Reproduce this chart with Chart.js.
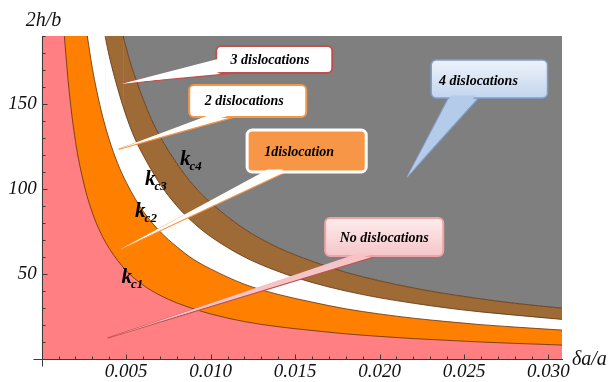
<!DOCTYPE html>
<html>
<head>
<meta charset="utf-8">
<title>Critical thickness map</title>
<script src="https://cdn.jsdelivr.net/npm/chart.js@4.4.0/dist/chart.umd.min.js"></script>
<style>
  html, body { margin: 0; padding: 0; background: #fff; }
  #wrap { width: 609px; height: 382px; }
</style>
</head>
<body>
<div id="wrap"><canvas id="chart" width="609" height="382"></canvas></div>
<script>
// Critical curves: x = delta a / a, y = 2h/b
const kc1X = [0.00134, 0.0016, 0.002, 0.0025, 0.003, 0.0035, 0.004, 0.005, 0.006, 0.007, 0.008, 0.009, 0.010, 0.012, 0.014, 0.016, 0.018, 0.020, 0.022, 0.024, 0.026, 0.028, 0.0308];
const kc1Y = [190, 160, 128, 103, 86, 74, 65, 52, 43.5, 37.5, 33, 29.5, 26.5, 22, 19, 16.8, 14.8, 13.3, 12, 11, 10, 9.2, 8.2];

const kc2X = [0.0027, 0.003, 0.0035, 0.004, 0.0045, 0.005, 0.006, 0.007, 0.008, 0.009, 0.010, 0.012, 0.014, 0.016, 0.018, 0.020, 0.022, 0.024, 0.026, 0.028, 0.0308];
const kc2Y = [190, 171, 147, 129, 115, 104, 87, 75, 66, 58.5, 53, 44, 38, 33.5, 29.5, 26.5, 24, 22, 20.2, 18.8, 17];

const kc3X = [0.00375, 0.004, 0.0045, 0.005, 0.0055, 0.006, 0.007, 0.008, 0.009, 0.010, 0.012, 0.014, 0.016, 0.018, 0.020, 0.022, 0.024, 0.026, 0.028, 0.0308];
const kc3Y = [190, 178, 159, 143, 130, 120, 103, 90, 80, 72, 60, 51.5, 45, 40, 36, 32.8, 30, 27.7, 25.8, 23.3];

const kc4X = [0.00482, 0.0052, 0.0056, 0.006, 0.0065, 0.007, 0.008, 0.009, 0.010, 0.012, 0.014, 0.016, 0.018, 0.020, 0.022, 0.024, 0.026, 0.028, 0.0308];
const kc4Y = [190, 176, 164, 153, 141, 131, 115, 102, 92, 76.5, 65.5, 57.5, 51, 46, 41.8, 38.3, 35.4, 32.8, 29.9];

const xMin = 0, xMax = 0.0308;
const yMin = 0, yMax = 190;

const xTicks = [0.005, 0.010, 0.015, 0.020, 0.025, 0.030];
const xTickLabels = ['0.005', '0.010', '0.015', '0.020', '0.025', '0.030'];
const yTicks = [50, 100, 150];
const yTickLabels = ['50', '100', '150'];
const xMinorStep = 0.001;
const yMinorStep = 10;

const xTitle = '\u03B4a/a';
const yTitle = '2h/b';

// curve labels: k with subscript, anchored in data coordinates
const curveLabels = [
    { sub: 'c1', x: 0.00472, y: 44.5 },
    { sub: 'c2', x: 0.00553, y: 83.4 },
    { sub: 'c3', x: 0.00612, y: 102.4 },
    { sub: 'c4', x: 0.00819, y: 114.1 }
];

// speech bubbles, anchored in data coordinates
const callouts = [
    { text: '3 dislocations', box: [0.01033, 184.1, 0.01720, 168.2], textAt: [0.01352, 175.9],
      tip: [0.00470, 161.8], base: [[0.01039, 175.3], [0.01151, 168.2]],
      fill: '#ffffff', stroke: '#c0504d', lw: 2, tailFill: '#ffffff', tailStroke: '#c0504d' },
    { text: '2 dislocations', box: [0.00873, 161.2, 0.01566, 142.4], textAt: [0.01199, 151.8],
      tip: [0.00458, 123.5], base: [[0.00985, 142.4], [0.01145, 142.4]],
      fill: '#ffffff', stroke: '#f79646', lw: 2, tailFill: '#ffffff', tailStroke: '#f79646' },
    { text: '1dislocation', box: [0.01216, 134.7, 0.01921, 110.0], textAt: [0.01524, 121.8],
      tip: [0.00470, 64.7], base: [[0.01323, 110.0], [0.01447, 110.0]],
      fill: '#f79646', stroke: '#ffffff', lw: 3, tailFill: '#ffffff', tailStroke: '#f79646' },
    { text: 'No dislocations', box: [0.01678, 82.9, 0.02377, 60.6], textAt: [0.02028, 71.2],
      tip: [0.00393, 12.4], base: [[0.01856, 60.6], [0.01986, 60.6]],
      fill: ['#fdecec', '#f5c6c8'], stroke: '#eea3a8', lw: 2, tailFill: '#f6c3c7', tailStroke: '#c0504d' },
    { text: '4 dislocations', box: [0.02306, 175.9, 0.02994, 153.5], textAt: [0.02585, 163.5],
      tip: [0.02164, 107.1], base: [[0.02407, 153.5], [0.02585, 153.5]],
      fill: ['#eef3fb', '#c3d5ee'], stroke: '#7f9fcf', lw: 1.5, tailFill: '#b5cbea', tailStroke: '#7f9fcf' }
];

const serif = '"Liberation Serif", "DejaVu Serif", serif';
const edge = 'rgba(95,50,15,0.8)';

function pts(xs, ys) {
    return xs.map((x, i) => ({ x: x, y: ys[i] }));
}

function curve(xs, ys, color) {
    return {
        data: pts(xs, ys), fill: 'origin', backgroundColor: color,
        borderColor: edge, borderWidth: 1, pointRadius: 0,
        cubicInterpolationMode: 'monotone'
    };
}

// block that paints the band colour left of where a curve enters the top edge;
// it runs a hair past the entry point so no seam shows between the two fills
function cap(xs, color) {
    return {
        data: [{ x: xMin, y: yMax }, { x: xs[0] + 0.00004, y: yMax }],
        fill: 'origin', backgroundColor: color, borderWidth: 0, pointRadius: 0
    };
}

const axesPlugin = {
    id: 'axes',
    afterDatasetsDraw(chart) {
        const { ctx, chartArea: a, scales: { x, y } } = chart;
        ctx.save();
        ctx.strokeStyle = '#3a3a3a';
        ctx.lineWidth = 1;
        ctx.beginPath();
        const bx = Math.round(y.getPixelForValue(0)) + 0.5;
        const lx = Math.round(x.getPixelForValue(0)) + 0.5;
        ctx.moveTo(lx - 9, bx); ctx.lineTo(a.right + 1, bx);
        ctx.moveTo(lx, a.top); ctx.lineTo(lx, bx + 7);
        for (let v = xMinorStep; v <= xMax + 1e-9; v += xMinorStep) {
            const px = Math.round(x.getPixelForValue(v)) + 0.5;
            const major = Math.abs(v / 0.005 - Math.round(v / 0.005)) < 1e-6;
            ctx.moveTo(px, bx); ctx.lineTo(px, bx - (major ? 5 : 3));
        }
        for (let v = yMinorStep; v <= yMax; v += yMinorStep) {
            const py = Math.round(y.getPixelForValue(v)) + 0.5;
            const major = v % 50 === 0;
            ctx.moveTo(lx, py); ctx.lineTo(lx + (major ? 5 : 3), py);
        }
        ctx.stroke();

        ctx.fillStyle = '#111';
        ctx.font = 'italic 20px ' + serif;
        ctx.textAlign = 'center';
        ctx.textBaseline = 'alphabetic';
        ctx.fillText(yTitle, lx + 1, 26);
        ctx.textAlign = 'left';
        ctx.fillText(xTitle, a.right + 10, bx + 5);
        ctx.restore();
    }
};

const labelPlugin = {
    id: 'curveLabels',
    afterDatasetsDraw(chart) {
        const { ctx, scales: { x, y } } = chart;
        ctx.save();
        ctx.fillStyle = '#000';
        ctx.textBaseline = 'alphabetic';
        ctx.textAlign = 'left';
        curveLabels.forEach(l => {
            const px = x.getPixelForValue(l.x), py = y.getPixelForValue(l.y);
            ctx.font = 'bold italic 21px ' + serif;
            ctx.fillText('k', px, py);
            const w = ctx.measureText('k').width;
            ctx.font = 'bold italic 13px ' + serif;
            ctx.fillText(l.sub, px + w - 1, py + 5);
        });
        ctx.restore();
    }
};

const calloutPlugin = {
    id: 'callouts',
    afterDatasetsDraw(chart) {
        const { ctx, scales: { x, y } } = chart;
        const P = p => [x.getPixelForValue(p[0]), y.getPixelForValue(p[1])];
        ctx.save();
        ctx.lineJoin = 'round';
        callouts.forEach(c => {
            const [x1, y1] = P([c.box[0], c.box[1]]);
            const [x2, y2] = P([c.box[2], c.box[3]]);
            const tip = P(c.tip);
            const b = c.base.map(P);
            let fill = c.fill;
            if (Array.isArray(fill)) {
                const g = ctx.createLinearGradient(0, y1, 0, y2);
                g.addColorStop(0, fill[0]);
                g.addColorStop(1, fill[1]);
                fill = g;
            }
            const tail = (inset) => {
                ctx.beginPath();
                ctx.moveTo(b[0][0] + inset, b[0][1] - inset);
                ctx.lineTo(tip[0], tip[1]);
                ctx.lineTo(b[1][0] - inset, b[1][1] - inset);
                ctx.closePath();
            };
            // tail outline
            tail(0);
            ctx.fillStyle = c.tailFill;
            ctx.fill();
            ctx.strokeStyle = c.tailStroke;
            ctx.lineWidth = 1.2;
            ctx.stroke();
            // box
            ctx.beginPath();
            ctx.roundRect(x1, y1, x2 - x1, y2 - y1, 5);
            ctx.fillStyle = fill;
            ctx.fill();
            ctx.strokeStyle = c.stroke;
            ctx.lineWidth = c.lw;
            ctx.stroke();
            // open the joint between tail and box
            tail(2.5);
            ctx.fillStyle = c.tailFill;
            ctx.fill();

            const [tx, ty] = P(c.textAt);
            ctx.fillStyle = '#000';
            ctx.font = 'bold italic 14px ' + serif;
            ctx.textAlign = 'center';
            ctx.textBaseline = 'middle';
            ctx.fillText(c.text, tx, ty);
        });
        ctx.restore();
    }
};

// drawn last-to-first: gray band, then kc4 layer down to kc1 layer
const datasets = [
    curve(kc1X, kc1Y, '#ff7f82'), cap(kc1X, '#ff7f82'),
    curve(kc2X, kc2Y, '#ff8000'), cap(kc2X, '#ff8000'),
    curve(kc3X, kc3Y, '#ffffff'), cap(kc3X, '#ffffff'),
    curve(kc4X, kc4Y, '#9e6a36'), cap(kc4X, '#9e6a36'),
    { data: pts(kc4X, kc4Y), fill: 'end', backgroundColor: '#7f7f7f', borderWidth: 0, pointRadius: 0, cubicInterpolationMode: 'monotone' }
];

const tickFont = { family: serif, size: 19, style: 'italic' };

new Chart(document.getElementById('chart'), {
    type: 'line',
    data: { datasets: datasets },
    options: {
        responsive: false,
        animation: false,
        devicePixelRatio: 1,
        layout: { padding: { top: 36, right: 47, left: 0, bottom: 0 } },
        plugins: { legend: { display: false }, tooltip: { enabled: false } },
        scales: {
            x: {
                type: 'linear', min: xMin, max: xMax,
                grid: { display: false, drawTicks: false }, border: { display: false },
                afterBuildTicks: s => { s.ticks = xTicks.map(v => ({ value: v })); },
                afterFit: s => { s.height = 23; },
                ticks: { callback: (v, i) => xTickLabels[i], font: tickFont, color: '#111', padding: 2, maxRotation: 0, autoSkip: false }
            },
            y: {
                type: 'linear', min: yMin, max: yMax,
                grid: { display: false, drawTicks: false }, border: { display: false },
                afterBuildTicks: s => { s.ticks = yTicks.map(v => ({ value: v })); },
                afterFit: s => { s.width = 41.7; },
                ticks: { callback: (v, i) => yTickLabels[i], font: tickFont, color: '#111', padding: 5, autoSkip: false }
            }
        }
    },
    plugins: [calloutPlugin, labelPlugin, axesPlugin]
});
</script>
</body>
</html>
